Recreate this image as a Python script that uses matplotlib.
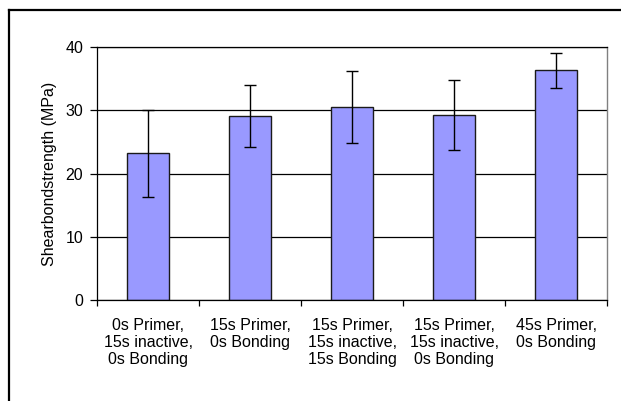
import matplotlib
matplotlib.use("Agg")
import matplotlib.pyplot as plt
from matplotlib.lines import Line2D
import numpy as np

plt.rcParams['font.family'] = ['Liberation Sans', 'DejaVu Sans']

categories = [
    "0s Primer,\n15s inactive,\n0s Bonding",
    "15s Primer,\n0s Bonding",
    "15s Primer,\n15s inactive,\n15s Bonding",
    "15s Primer,\n15s inactive,\n0s Bonding",
    "45s Primer,\n0s Bonding",
]
values = [23.2, 29.1, 30.5, 29.3, 36.3]
errors = [6.9, 4.85, 5.75, 5.55, 2.8]
yticks = [0, 10, 20, 30, 40]

W, H = 621, 401
fig = plt.figure(figsize=(W / 100, H / 100), dpi=100)
ax = fig.add_axes([97 / W, 1 - 300 / H, 510 / W, 253 / H])

x = np.arange(len(categories))
ax.set_axisbelow(True)
ax.yaxis.grid(True, color='black', linewidth=0.9)
ax.bar(x, values, width=0.41, color='#9999FF', edgecolor='#1a1a1a', linewidth=1.0,
       yerr=errors, capsize=4.5, error_kw=dict(ecolor='black', elinewidth=1.0, capthick=1.0),
       zorder=2)

ax.set_xlim(-0.5, len(categories) - 0.5)
ax.set_ylim(0, 40)
ax.set_yticks(yticks)
ax.set_xticks(np.arange(len(categories) + 1) - 0.5)
ax.set_xticklabels([])
ax.set_xticks(x, minor=True)
ax.set_xticklabels(categories, minor=True, fontsize=11.5, linespacing=1.18)
ax.tick_params(axis='x', which='minor', length=0, pad=13)
ax.tick_params(axis='x', which='major', length=4, direction='out', width=0.9)
ax.tick_params(axis='y', length=5, direction='out', width=0.9, labelsize=11.5, pad=5)

for s in ['left', 'bottom', 'top']:
    ax.spines[s].set_color('black')
    ax.spines[s].set_linewidth(0.9)
ax.spines['right'].set_color('#808080')
ax.spines['right'].set_linewidth(1.0)

ax.set_ylabel("Shearbondstrength (MPa)", fontsize=11.5, labelpad=6)

fig.add_artist(Line2D([9 / W, 1.0], [1 - 10 / H, 1 - 10 / H], transform=fig.transFigure,
                      color='black', linewidth=1.6))
fig.add_artist(Line2D([9 / W, 9 / W], [1 - 10 / H, 0.0], transform=fig.transFigure,
                      color='black', linewidth=1.6))

fig.savefig("out.png", dpi=100)
